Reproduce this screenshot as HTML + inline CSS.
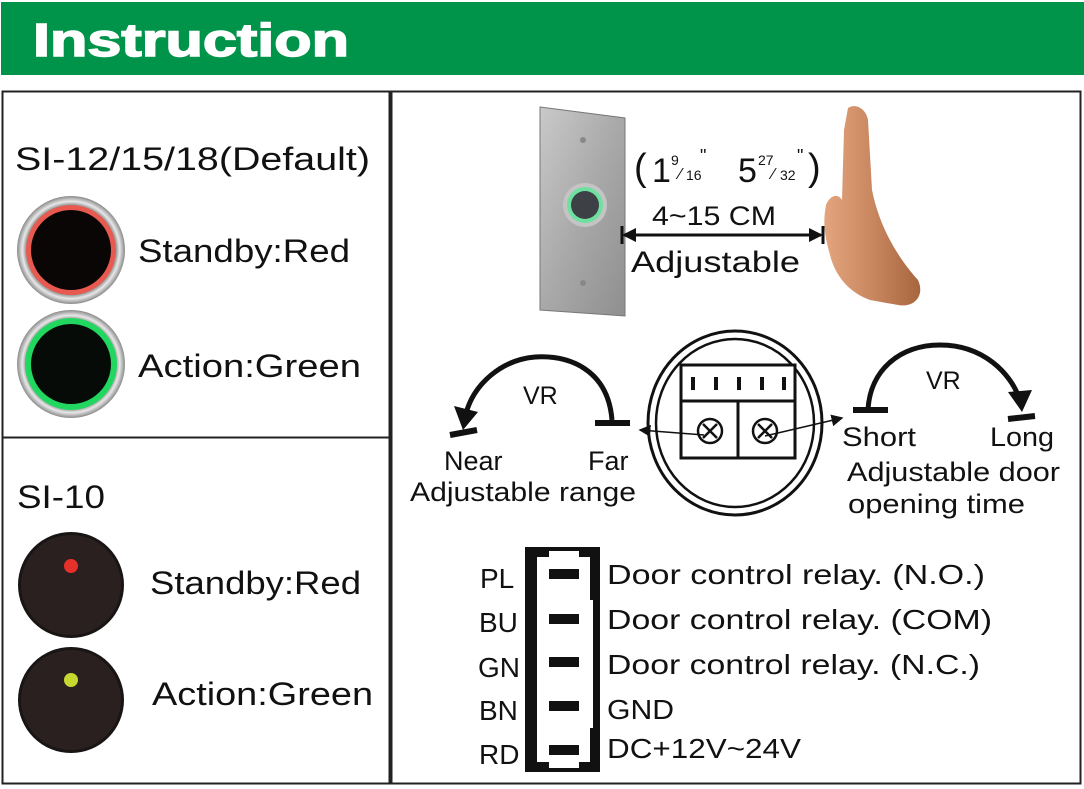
<!DOCTYPE html>
<html><head><meta charset="utf-8"><style>
html,body{margin:0;padding:0;background:#fff;}
svg{display:block;}
text{font-family:"Liberation Sans",sans-serif;fill:#111;}
</style></head><body>
<svg width="1084" height="789" viewBox="0 0 1084 789" xmlns="http://www.w3.org/2000/svg">
<defs>
<radialGradient id="metal" cx="50%" cy="50%" r="50%">
<stop offset="80%" stop-color="#6d6d6d"/><stop offset="90%" stop-color="#e8e8e8"/><stop offset="100%" stop-color="#8a8a8a"/>
</radialGradient>
<linearGradient id="plate" x1="0" y1="0" x2="1" y2="1">
<stop offset="0" stop-color="#c9c9c9"/><stop offset="0.5" stop-color="#a9a9a9"/><stop offset="1" stop-color="#8f8f8f"/>
</linearGradient>
<linearGradient id="skin" x1="0" y1="0" x2="1" y2="0">
<stop offset="0" stop-color="#e3a57e"/><stop offset="0.5" stop-color="#c98760"/><stop offset="1" stop-color="#a8663f"/>
</linearGradient>
<marker id="ah" markerWidth="8" markerHeight="8" refX="7" refY="4" orient="auto"><path d="M0,0 L8,4 L0,8 z" fill="#111"/></marker>
</defs>
<rect x="1" y="2" width="1083" height="73" fill="#00934a"/>
<text x="33" y="56" font-size="46" font-weight="bold" style="fill:#fff;stroke:#fff;stroke-width:1.5" textLength="316" lengthAdjust="spacingAndGlyphs">Instruction</text>

<rect x="2.5" y="91.5" width="387" height="692" fill="none" stroke="#222" stroke-width="2"/>
<line x1="2" y1="437.5" x2="390" y2="437.5" stroke="#222" stroke-width="2"/>
<rect x="391.5" y="91.5" width="689" height="692" fill="none" stroke="#222" stroke-width="2"/>

<text x="15" y="170" font-size="32" textLength="355" lengthAdjust="spacingAndGlyphs">SI-12/15/18(Default)</text>
<circle cx="71" cy="250" r="54" fill="url(#metal)"/>
<circle cx="71" cy="250" r="45" fill="#e85a4f"/>
<circle cx="71" cy="250" r="40" fill="#0b0606"/>
<text x="138" y="262" font-size="32" textLength="212" lengthAdjust="spacingAndGlyphs">Standby:Red</text>
<circle cx="71" cy="364" r="54" fill="url(#metal)"/>
<circle cx="71" cy="364" r="46" fill="#22d760"/>
<circle cx="71" cy="364" r="40" fill="#060b07"/>
<text x="138" y="377" font-size="32" textLength="223" lengthAdjust="spacingAndGlyphs">Action:Green</text>

<text x="17" y="508" font-size="32" textLength="88" lengthAdjust="spacingAndGlyphs">SI-10</text>
<circle cx="71" cy="585" r="53" fill="#1a1515"/>
<circle cx="71" cy="585" r="50" fill="#2a2020"/>
<circle cx="71" cy="566" r="7" fill="#e8302a"/>
<text x="150" y="594" font-size="32" textLength="211" lengthAdjust="spacingAndGlyphs">Standby:Red</text>
<circle cx="71" cy="700" r="53" fill="#1a1515"/>
<circle cx="71" cy="700" r="50" fill="#2a2020"/>
<circle cx="71" cy="680" r="7" fill="#c8d830"/>
<text x="152" y="705" font-size="32" textLength="221" lengthAdjust="spacingAndGlyphs">Action:Green</text>

<path d="M540,107 L625,118 L625,316 L540,310 Z" fill="url(#plate)" stroke="#777"/>
<circle cx="585" cy="205" r="22" fill="#c4c4c4"/>
<circle cx="585" cy="205" r="18" fill="#6fe0a0"/>
<circle cx="585" cy="205" r="14" fill="#3d4146"/>
<circle cx="583" cy="140" r="3" fill="#888"/>
<circle cx="583" cy="283" r="3" fill="#888"/>
<path d="M848,108 C855,103 866,108 868,120 L872,190 C880,230 900,260 918,280 C925,295 915,308 898,305 L870,300 C848,292 835,275 830,255 C826,240 822,225 826,205 C830,195 838,193 842,200 L844,130 Z" fill="url(#skin)"/>

<text x="634" y="180" font-size="38">(</text>
<text x="652" y="182" font-size="34">1</text>
<text x="671" y="165" font-size="14">9</text><text x="679" y="179" font-size="16">⁄</text><text x="686" y="180" font-size="14">16</text>
<text x="700" y="162" font-size="18">"</text>
<text x="738" y="182" font-size="34">5</text>
<text x="758" y="165" font-size="14">27</text><text x="772" y="179" font-size="16">⁄</text><text x="780" y="180" font-size="14">32</text>
<text x="797" y="162" font-size="18">"</text>
<text x="808" y="180" font-size="38">)</text>
<text x="652" y="225" font-size="27" textLength="124" lengthAdjust="spacingAndGlyphs">4~15 CM</text>
<line x1="624" y1="235" x2="821" y2="235" stroke="#111" stroke-width="3"/>
<path d="M622,235 L636,228 L636,242 Z M823,235 L809,228 L809,242 Z" fill="#111"/>
<line x1="622" y1="226" x2="622" y2="244" stroke="#111" stroke-width="3"/>
<line x1="823" y1="226" x2="823" y2="244" stroke="#111" stroke-width="3"/>
<text x="631" y="272" font-size="30" textLength="169" lengthAdjust="spacingAndGlyphs">Adjustable</text>

<ellipse cx="735" cy="423" rx="87" ry="92" fill="none" stroke="#111" stroke-width="3"/>
<ellipse cx="735" cy="423" rx="79" ry="84" fill="none" stroke="#111" stroke-width="2.5"/>
<rect x="681" y="365" width="114" height="93" fill="#fff" stroke="#111" stroke-width="3"/>
<line x1="681" y1="401" x2="795" y2="401" stroke="#111" stroke-width="3"/>
<line x1="738" y1="401" x2="738" y2="458" stroke="#111" stroke-width="3"/>
<g stroke="#111" stroke-width="4"><line x1="693" y1="377" x2="693" y2="390"/><line x1="716" y1="377" x2="716" y2="390"/><line x1="739" y1="377" x2="739" y2="390"/><line x1="762" y1="377" x2="762" y2="390"/><line x1="784" y1="377" x2="784" y2="390"/></g>
<g fill="none" stroke="#111" stroke-width="2.5">
<circle cx="710" cy="431" r="12"/><path d="M703,424 L717,438 M717,424 L703,438"/>
<circle cx="765" cy="431" r="12"/><path d="M758,424 L772,438 M772,424 L758,438"/>
</g>
<line x1="704" y1="435" x2="640" y2="430" stroke="#111" stroke-width="1.5" marker-end="url(#ah)"/>
<line x1="765" y1="436" x2="842" y2="418" stroke="#111" stroke-width="1.5" marker-end="url(#ah)"/>

<path d="M612,420 C608,370 570,355 535,357 C500,360 475,385 467,410" fill="none" stroke="#111" stroke-width="5"/>
<path d="M454,406 L478,412 L463,430 Z" fill="#111"/>
<line x1="595" y1="423" x2="630" y2="423" stroke="#111" stroke-width="6"/>
<line x1="450" y1="435" x2="477" y2="430" stroke="#111" stroke-width="6"/>
<text x="523" y="404" font-size="25">VR</text>
<text x="444" y="470" font-size="27">Near</text>
<text x="588" y="470" font-size="27">Far</text>
<text x="410" y="501" font-size="27" textLength="226" lengthAdjust="spacingAndGlyphs">Adjustable range</text>

<path d="M868,410 C870,370 900,345 940,345 C985,345 1010,375 1018,395" fill="none" stroke="#111" stroke-width="5"/>
<path d="M1008,392 L1032,390 L1022,412 Z" fill="#111"/>
<line x1="853" y1="410" x2="888" y2="410" stroke="#111" stroke-width="6"/>
<line x1="1008" y1="419" x2="1035" y2="416" stroke="#111" stroke-width="6"/>
<text x="926" y="389" font-size="25">VR</text>
<text x="842" y="446" font-size="27" textLength="74" lengthAdjust="spacingAndGlyphs">Short</text>
<text x="990" y="446" font-size="27" textLength="64" lengthAdjust="spacingAndGlyphs">Long</text>
<text x="847" y="481" font-size="27" textLength="213" lengthAdjust="spacingAndGlyphs">Adjustable door</text>
<text x="848" y="513" font-size="27" textLength="177" lengthAdjust="spacingAndGlyphs">opening time</text>

<rect x="525" y="547" width="75" height="225" fill="#111"/>
<rect x="537" y="557" width="53" height="205" fill="#fff"/>
<rect x="549" y="551" width="30" height="6" fill="#fff"/>
<rect x="549" y="762" width="30" height="6" fill="#fff"/>
<rect x="590" y="600" width="3" height="128" fill="#fff"/>
<g fill="#111"><rect x="549" y="569" width="30" height="10"/><rect x="549" y="614" width="30" height="10"/><rect x="549" y="657" width="30" height="10"/><rect x="549" y="701" width="30" height="10"/><rect x="549" y="745" width="30" height="10"/></g>
<g font-size="28">
<text x="480" y="588">PL</text><text x="479" y="632">BU</text><text x="478" y="677">GN</text><text x="479" y="720">BN</text><text x="479" y="764">RD</text>
</g>
<g font-size="28">
<text x="607" y="584" textLength="378" lengthAdjust="spacingAndGlyphs">Door control relay. (N.O.)</text>
<text x="607" y="629" textLength="385" lengthAdjust="spacingAndGlyphs">Door control relay. (COM)</text>
<text x="607" y="674" textLength="373" lengthAdjust="spacingAndGlyphs">Door control relay. (N.C.)</text>
<text x="607" y="719" textLength="67" lengthAdjust="spacingAndGlyphs">GND</text>
<text x="607" y="758" textLength="194" lengthAdjust="spacingAndGlyphs">DC+12V~24V</text>
</g>
</svg>
</body></html>
